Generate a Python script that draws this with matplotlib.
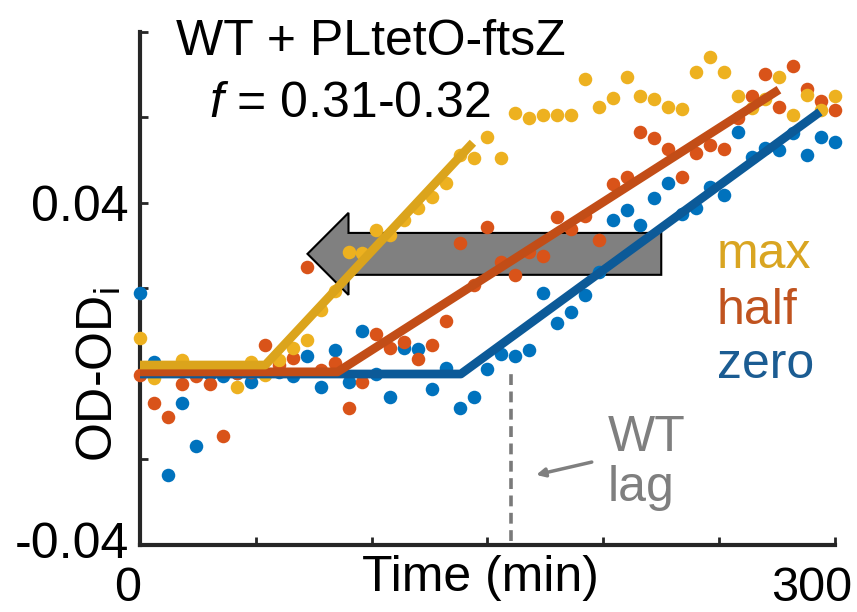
import matplotlib
matplotlib.use("Agg")
import matplotlib.pyplot as plt
from matplotlib.patches import FancyArrow
from matplotlib.transforms import ScaledTranslation

plt.rcParams['font.family'] = ['Liberation Sans', 'DejaVu Sans']
plt.rcParams['mathtext.fontset'] = 'custom'
plt.rcParams['mathtext.rm'] = 'Liberation Sans'
plt.rcParams['mathtext.it'] = 'Liberation Sans:italic'

# ---------------- data ----------------
time_min = [0, 6, 12, 18, 24, 30, 36, 42, 48, 54, 60, 66, 72, 78, 84, 90, 96, 102,
            108, 114, 120, 126, 132, 138, 144, 150, 156, 162, 168, 174, 180, 186,
            192, 198, 204, 210, 216, 222, 228, 234, 240, 246, 252, 258, 264, 270,
            276, 282, 288, 294, 300]

od_zero = [0.0190, 0.0028, -0.0236, -0.0068, -0.0168, 0.0000, -0.0005, 0.0003, -0.0019,
           0.0000, 0.0005, -0.0005, 0.0042, -0.0030, 0.0056, -0.0019, 0.0101, 0.0000,
           -0.0054, 0.0061, 0.0059, -0.0035, 0.0014, -0.0080, -0.0054, 0.0012, 0.0047,
           0.0042, 0.0056, 0.0190, 0.0119, 0.0145, 0.0185, 0.0239, 0.0360, 0.0384,
           0.0349, 0.0412, 0.0447, 0.0374, 0.0388, 0.0438, 0.0419, 0.0566, 0.0508,
           0.0529, 0.0524, 0.0564, 0.0512, 0.0555, 0.0543]

od_half = [-0.0002, -0.0068, -0.0101, -0.0023, -0.0005, -0.0023, -0.0145, 0.0003, 0.0005,
           0.0068, 0.0021, 0.0037, 0.0250, 0.0009, 0.0026, -0.0080, -0.0019, 0.0094,
           0.0061, 0.0075, 0.0035, 0.0068, 0.0124, 0.0307, 0.0208, 0.0344, 0.0262,
           0.0232, 0.0285, 0.0276, 0.0367, 0.0339, 0.0370, 0.0314, 0.0445, 0.0461,
           0.0566, 0.0552, 0.0527, 0.0461, 0.0517, 0.0536, 0.0527, 0.0599, 0.0651,
           0.0702, 0.0625, 0.0721, 0.0667, 0.0639, 0.0618]

od_max = [0.0084, -0.0009, 0.0009, 0.0033, 0.0009, 0.0009, 0.0009, -0.0030, 0.0028,
          -0.0002, 0.0033, 0.0061, 0.0080, 0.0150, 0.0194, 0.0285, 0.0283, 0.0337,
          0.0325, 0.0360, 0.0388, 0.0414, 0.0447, 0.0512, 0.0505, 0.0555, 0.0505,
          0.0611, 0.0599, 0.0606, 0.0606, 0.0606, 0.0690, 0.0625, 0.0646, 0.0695,
          0.0651, 0.0644, 0.0625, 0.0620, 0.0707, 0.0742, 0.0707, 0.0651, 0.0622,
          0.0644, 0.0695, 0.0606, 0.0653, 0.0618, 0.0651]

# piecewise-linear fits (lag, then growth)
fit_zero_t = [0, 138.5, 293.5]
fit_zero_y = [0.0, 0.0, 0.0613]
fit_half_t = [0, 85.3, 275.8]
fit_half_y = [0.0005, 0.0005, 0.0665]
fit_max_t = [0, 54.1, 143.7]
fit_max_y = [0.0021, 0.0021, 0.0541]

wt_lag_time = 160

xticks = [0, 50, 100, 150, 200, 250, 300]
xtick_labels = ['0', '', '', '', '', '', '300']
yticks = [-0.04, -0.02, 0.0, 0.02, 0.04, 0.06, 0.08]
ytick_labels = ['-0.04', '', '', '', '0.04', '', '']

# ---------------- colours ----------------
c_zero_dot, c_half_dot, c_max_dot = '#0072BD', '#D95319', '#EDB120'
c_zero_line, c_half_line, c_max_line = '#0C5A98', '#C24D17', '#DBA41C'
c_zero_txt, c_half_txt, c_max_txt = '#1B5C92', '#C0531F', '#D9A521'
axis_col = '#262626'
FS = 36

fig = plt.figure(figsize=(8.57, 6.12), dpi=100)
ax = fig.add_axes([140 / 857, 1 - 545 / 612, 695 / 857, 513 / 612])

# big grey arrow (behind data)
arrow = FancyArrow(225, 0.0281, -152.7, 0, width=0.0098, head_width=0.0192,
                   head_length=17.7, length_includes_head=True,
                   fc='#808080', ec='black', lw=1.5, zorder=1)
ax.add_patch(arrow)

ms = 95
ax.scatter(time_min, od_zero, s=ms, color=c_zero_dot, lw=0, zorder=3, clip_on=False)
ax.scatter(time_min, od_half, s=ms, color=c_half_dot, lw=0, zorder=3, clip_on=False)
ax.scatter(time_min, od_max, s=ms, color=c_max_dot, lw=0, zorder=3, clip_on=False)

lw_fit = 6.3
ax.plot(fit_zero_t, fit_zero_y, color=c_zero_line, lw=lw_fit, zorder=4,
        solid_capstyle='butt', clip_on=False)
ax.plot(fit_half_t, fit_half_y, color=c_half_line, lw=lw_fit, zorder=4,
        solid_capstyle='butt', clip_on=False)
ax.plot(fit_max_t, fit_max_y, color=c_max_line, lw=lw_fit, zorder=4,
        solid_capstyle='butt', clip_on=False)

# WT lag marker
ax.plot([wt_lag_time, wt_lag_time], [-0.039, 0.0003], color='#7A7A7A', lw=2.6,
        ls=(0, (3, 1.8)), zorder=2)
ax.annotate('', xy=(171, -0.0236), xytext=(195, -0.0206),
            arrowprops=dict(arrowstyle='-|>,head_length=0.5,head_width=0.25',
                            color='#7F7F7F', lw=2.5, shrinkA=0, shrinkB=0))
ax.text(202, -0.0179, 'WT', fontsize=FS, color='#7F7F7F', ha='left', va='baseline')
ax.text(202, -0.0296, 'lag', fontsize=FS, color='#7F7F7F', ha='left', va='baseline')

# legend-like labels
ax.text(249, 0.0248, 'max', fontsize=FS, color=c_max_txt, ha='left', va='baseline')
ax.text(249, 0.0118, 'half', fontsize=FS, color=c_half_txt, ha='left', va='baseline')
ax.text(249, -0.0009, 'zero', fontsize=FS, color=c_zero_txt, ha='left', va='baseline')

# axes
ax.set_xlim(0, 300)
ax.set_ylim(-0.04, 0.08)
for s in ['top', 'right']:
    ax.spines[s].set_visible(False)
for s in ['left', 'bottom']:
    ax.spines[s].set_linewidth(3)
    ax.spines[s].set_color(axis_col)
ax.set_xticks(xticks)
ax.set_xticklabels(xtick_labels)
ax.set_yticks(yticks)
ax.set_yticklabels(ytick_labels)
ax.tick_params(direction='in', length=5.5, width=2, color=axis_col,
               labelsize=FS, labelcolor='black')
ax.tick_params(axis='y', pad=8)
ax.tick_params(axis='x', pad=15, labelsize=35)

# shift tick labels like the reference
xshifts = {'0': -12, '300': -23}
for lab in ax.get_xticklabels():
    txt = lab.get_text()
    if txt in xshifts:
        lab.set_transform(lab.get_transform() +
                          ScaledTranslation(xshifts[txt] / 100, 0, fig.dpi_scale_trans))
for lab in ax.get_yticklabels():
    if lab.get_text() == '-0.04':
        lab.set_transform(lab.get_transform() +
                          ScaledTranslation(0, 5 / 100, fig.dpi_scale_trans))

ax.set_xlabel('Time (min)', fontsize=FS)
ax.xaxis.set_label_coords((480 - 140) / 695, -0.02)
ax.xaxis.label.set_va('top')
ax.set_ylabel('OD-OD$_\\mathregular{i}$', fontsize=FS)
ax.yaxis.set_label_coords(-0.025, (545 - 375) / 513)

# title lines
fig.text(371 / 857, 1 - 55 / 612, 'WT + PLtetO-ftsZ', fontsize=FS, ha='center',
         va='baseline')
fig.text(350 / 857, 1 - 117 / 612, '$\\mathit{f}$ = 0.31-0.32', fontsize=FS,
         ha='center', va='baseline')

fig.savefig('out.png', dpi=100)
